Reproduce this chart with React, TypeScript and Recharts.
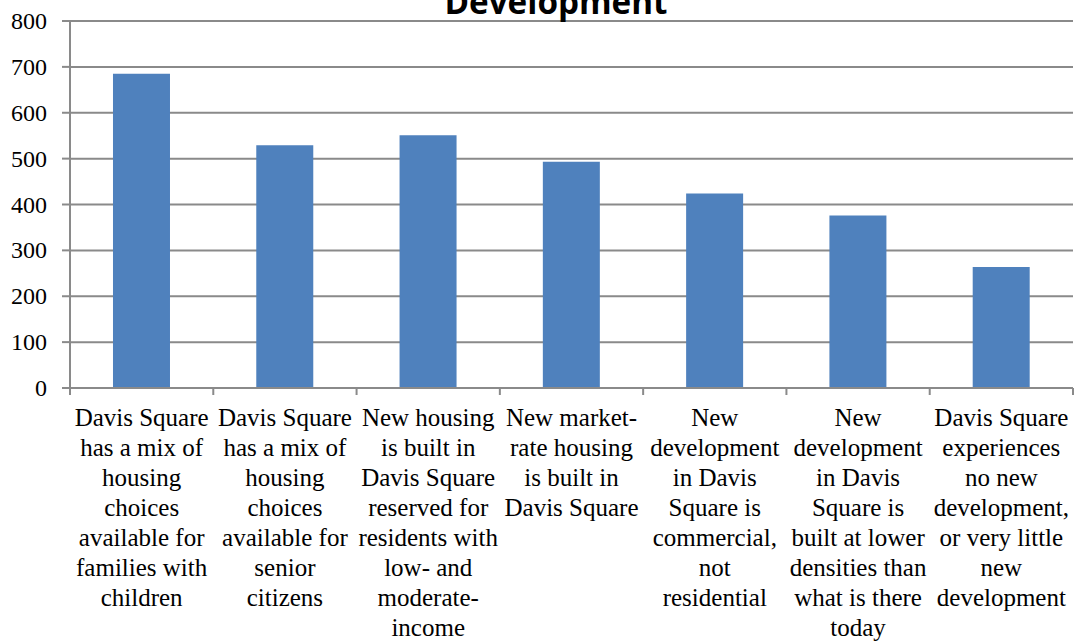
import React from 'react';
import { BarChart, Bar, XAxis, YAxis, CartesianGrid } from 'recharts';

// category labels, already wrapped the way the original chart breaks them
const categoryLines: string[][] = [
  ['Davis Square', 'has a mix of', 'housing', 'choices', 'available for', 'families with', 'children'],
  ['Davis Square', 'has a mix of', 'housing', 'choices', 'available for', 'senior', 'citizens'],
  ['New housing', 'is built in', 'Davis Square', 'reserved for', 'residents with', 'low- and', 'moderate-', 'income'],
  ['New market-', 'rate housing', 'is built in', 'Davis Square'],
  ['New', 'development', 'in Davis', 'Square is', 'commercial,', 'not', 'residential'],
  ['New', 'development', 'in Davis', 'Square is', 'built at lower', 'densities than', 'what is there', 'today'],
  ['Davis Square', 'experiences', 'no new', 'development,', 'or very little', 'new', 'development'],
];

const votes = [685, 529, 551, 493, 424, 376, 264];

const yTicks = [0, 100, 200, 300, 400, 500, 600, 700, 800];

const chartTitle = 'Development';

const data = categoryLines.map((lines, i) => ({ name: lines.join(' '), idx: i, value: votes[i] }));

const GRID = '#8a8a8a';
const BAR = '#4F81BD';
const SERIF = '"Liberation Serif", "Times New Roman", serif';

const CategoryTick = (props: any) => {
  const { x, y, payload, index } = props;
  const half = payload && payload.offset ? payload.offset : 71.6;
  const lines = categoryLines[index] || [];
  return (
    <g>
      <line x1={x - half} x2={x - half} y1={y} y2={y + 7} stroke={GRID} strokeWidth={2} />
      {index === categoryLines.length - 1 && (
        <line x1={x + half} x2={x + half} y1={y} y2={y + 7} stroke={GRID} strokeWidth={2} />
      )}
      <text x={x} y={y + 38} textAnchor="middle" fontFamily={SERIF} fontSize={25} fill="#000">
        {lines.map((l, i) => (
          <tspan key={i} x={x} dy={i === 0 ? 0 : 30}>
            {l}
          </tspan>
        ))}
      </text>
    </g>
  );
};

const ValueTick = (props: any) => {
  const { x, y, payload } = props;
  return (
    <text x={x} y={y} dy={8} textAnchor="end" fontFamily={SERIF} fontSize={24} fill="#000">
      {payload.value}
    </text>
  );
};

export default function App() {
  return (
    <div style={{ position: 'absolute', left: 0, top: 0, width: 1074, height: 644, background: '#fff' }}>
      <BarChart
        width={1074}
        height={644}
        data={data}
        margin={{ top: 21, right: 1, bottom: 0, left: 0 }}
        barCategoryGap="30%"
      >
        <CartesianGrid vertical={false} stroke={GRID} strokeWidth={2} />
        <XAxis
          dataKey="name"
          interval={0}
          height={256}
          tickLine={false}
          tickSize={0}
          tickMargin={0}
          axisLine={{ stroke: GRID, strokeWidth: 2 }}
          tick={<CategoryTick />}
        />
        <YAxis
          domain={[0, 800]}
          ticks={yTicks}
          width={70}
          tickSize={8}
          tickMargin={15}
          axisLine={{ stroke: GRID, strokeWidth: 2 }}
          tickLine={{ stroke: GRID, strokeWidth: 2 }}
          tick={<ValueTick />}
        />
        <Bar dataKey="value" fill={BAR} isAnimationActive={false} />
      </BarChart>
      <svg
        width={1074}
        height={644}
        style={{ position: 'absolute', left: 0, top: 0, pointerEvents: 'none' }}
      >
        <text
          x={556}
          y={14}
          textAnchor="middle"
          fontFamily='"Open Sans", sans-serif'
          fontWeight={700}
          fontSize={34}
          textLength={223}
          lengthAdjust="spacingAndGlyphs"
          fill="#000"
        >
          {chartTitle}
        </text>
      </svg>
    </div>
  );
}
